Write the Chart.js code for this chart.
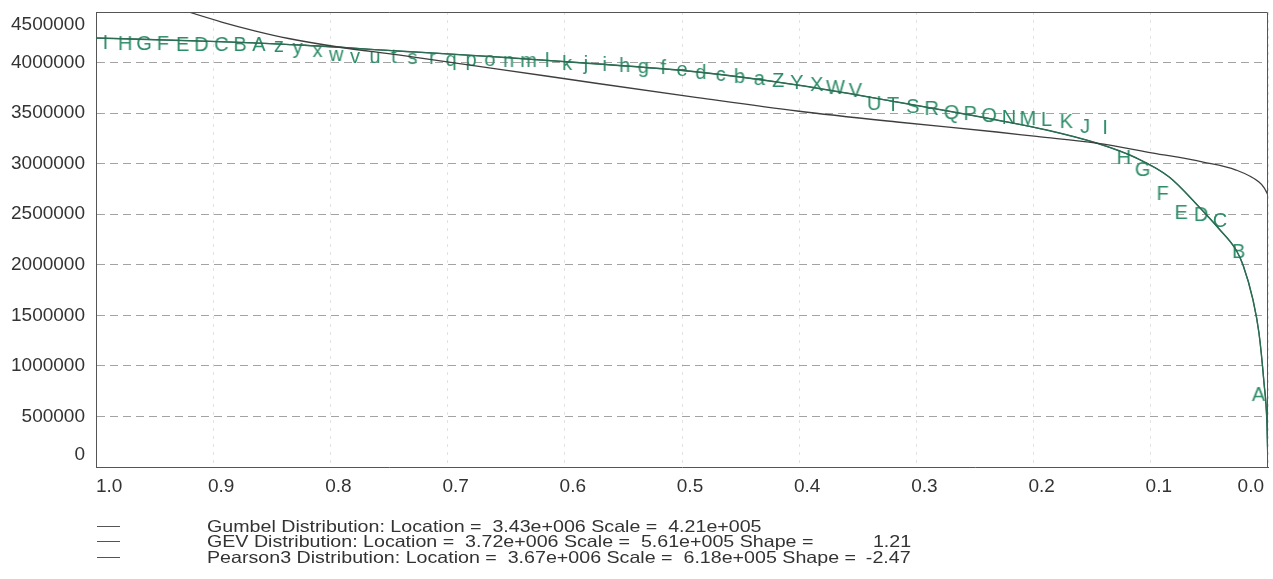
<!DOCTYPE html>
<html><head><meta charset="utf-8">
<script src="https://cdn.jsdelivr.net/npm/chart.js@4.4.1/dist/chart.umd.min.js"></script>
<style>
html,body{margin:0;padding:0;background:#fff;}
#wrap{position:relative;width:1273px;height:579px;overflow:hidden;background:#fff;}
canvas{position:absolute;left:0;top:0;}
.lg{position:absolute;font-family:'Liberation Sans',Arial,sans-serif;font-size:16.5px;color:#333;white-space:pre;line-height:16px;transform-origin:0 50%;}
.ln{position:absolute;left:97px;width:23px;height:1px;background:#555;}
</style></head>
<body><div id="wrap"><canvas id="c" width="1273" height="579"></canvas><div id="legend"></div></div>
<script>
// ---- data ----
const xTickValues = [1.0, 0.9, 0.8, 0.7, 0.6, 0.5, 0.4, 0.3, 0.2, 0.1, 0.0];
const xTickLabels = ['1.0','0.9','0.8','0.7','0.6','0.5','0.4','0.3','0.2','0.1','0.0'];
const yTickValues = [0, 500000, 1000000, 1500000, 2000000, 2500000, 3000000, 3500000, 4000000, 4500000];
const yTickLabels = ['0','500000','1000000','1500000','2000000','2500000','3000000','3500000','4000000','4500000'];

const gumbelX = [0.95, 0.9209, 0.8928, 0.8638, 0.8357, 0.7932, 0.7421, 0.6570, 0.5719, 0.4868, 0.4017, 0.3166, 0.2315, 0.1974, 0.1464, 0.0979, 0.0553, 0.0272, 0.0077, 0.0034, 0.0];
const gumbelY = [4610000, 4500000, 4401000, 4312000, 4238000, 4154000, 4075000, 3936000, 3793000, 3654000, 3521000, 3412000, 3313000, 3269000, 3204000, 3105000, 3016000, 2937000, 2819000, 2764000, 2690000];

const gevX = [1.0, 0.9123, 0.8272, 0.7421, 0.6570, 0.5719, 0.4868, 0.4017, 0.3166, 0.2315, 0.1889, 0.1464, 0.1123, 0.0843, 0.0587, 0.0417, 0.0272, 0.0213, 0.0128, 0.0077, 0.0034, 0.0009, 0.0];
const gevY = [4243000, 4213000, 4174000, 4114000, 4055000, 3986000, 3907000, 3778000, 3610000, 3432000, 3333000, 3204000, 3056000, 2868000, 2571000, 2354000, 2146000, 1998000, 1652000, 1325000, 831000, 435000, 0];
// Pearson3 curve lies on top of the GEV curve in the picture
const pearson3X = [1.0, 0.9123, 0.8272, 0.7421, 0.6570, 0.5719, 0.4868, 0.4017, 0.3166, 0.2315, 0.1889, 0.1464, 0.1123, 0.0843, 0.0587, 0.0417, 0.0272, 0.0213, 0.0128, 0.0077, 0.0034, 0.0009, 0.0];
const pearson3Y = [4243000, 4213000, 4174000, 4114000, 4055000, 3986000, 3907000, 3778000, 3610000, 3432000, 3333000, 3204000, 3056000, 2868000, 2571000, 2354000, 2146000, 1998000, 1652000, 1325000, 831000, 435000, 0];

const pointLetters = 'ABCDEFGHIJKLMNOPQRSTUVWXYZabcdefghijklmnopqrstuvwxyzABCDEFGHI'.split('');
const pointX = [0.008, 0.025, 0.041, 0.057, 0.074, 0.090, 0.107, 0.123, 0.139, 0.156, 0.172, 0.189, 0.205, 0.221, 0.238, 0.254, 0.270, 0.287, 0.303, 0.320, 0.336, 0.352, 0.369, 0.385, 0.402, 0.418, 0.434, 0.451, 0.467, 0.484, 0.500, 0.516, 0.533, 0.549, 0.566, 0.582, 0.598, 0.615, 0.631, 0.648, 0.664, 0.680, 0.697, 0.713, 0.730, 0.746, 0.762, 0.779, 0.795, 0.811, 0.828, 0.844, 0.861, 0.877, 0.893, 0.910, 0.926, 0.943, 0.959, 0.975, 0.992];
const pointY = [712000, 2126000, 2433000, 2492000, 2512000, 2700000, 2937000, 3056000, 3353000, 3363000, 3412000, 3432000, 3442000, 3452000, 3471000, 3491000, 3501000, 3541000, 3560000, 3580000, 3590000, 3719000, 3748000, 3778000, 3798000, 3818000, 3837000, 3857000, 3877000, 3897000, 3926000, 3946000, 3956000, 3966000, 3976000, 3986000, 3986000, 4015000, 4015000, 4015000, 4025000, 4025000, 4025000, 4045000, 4045000, 4055000, 4055000, 4055000, 4075000, 4114000, 4144000, 4164000, 4174000, 4174000, 4174000, 4174000, 4174000, 4183000, 4183000, 4183000, 4193000];

const legendNames = ['Gumbel', 'GEV', 'Pearson3'];
const legendLocation = ['3.43e+006', '3.72e+006', '3.67e+006'];
const legendScale = ['4.21e+005', '5.61e+005', '6.18e+005'];
const legendShape = ['', '1.21', '-2.47'];

// ---- helpers ----
const toXY = (xs, ys) => xs.map((x, i) => ({x, y: ys[i]}));
const FONT = "'Liberation Sans', Arial, sans-serif";
const GREEN_TEXT = '#2d8c68';
const GREEN_LINE = '#2b6c52';

function letterImage(ch) {
  const c = document.createElement('canvas');
  const g = c.getContext('2d');
  g.font = '20px ' + FONT;
  let w = Math.ceil(g.measureText(ch).width) + 4;
  if (w % 2) w++;
  c.width = w; c.height = 28;
  g.font = '20px ' + FONT;
  g.fillStyle = GREEN_TEXT;
  g.textAlign = 'center';
  g.textBaseline = 'middle';
  g.fillText(ch, w / 2, 14);
  return c;
}

const deco = {
  id: 'deco',
  afterDraw(chart) {
    const {ctx, chartArea: a, scales: {x, y}} = chart;
    ctx.save();
    ctx.strokeStyle = '#555';
    ctx.lineWidth = 1;
    ctx.beginPath();
    ctx.moveTo(a.left + 0.5, a.top + 0.5);
    ctx.lineTo(a.right - 0.5, a.top + 0.5);
    ctx.lineTo(a.right - 0.5, a.bottom + 0.5);
    ctx.stroke();
    ctx.font = '19px ' + FONT;
    ctx.fillStyle = '#333';
    ctx.textBaseline = 'middle';
    // x tick labels
    ctx.textAlign = 'center';
    xTickValues.forEach((v, i) => {
      const t = xTickLabels[i];
      const w = ctx.measureText(t).width;
      let cx = x.getPixelForValue(v) + 8;
      cx = Math.max(cx, a.left + w / 2);
      cx = Math.min(cx, a.right - 4 - w / 2);
      ctx.fillText(t, cx, a.bottom + 20);
    });
    // y tick labels
    ctx.textAlign = 'right';
    yTickValues.forEach((v, i) => {
      let cy = y.getPixelForValue(v);
      cy = Math.max(cy, a.top + 13);
      cy = Math.min(cy, a.bottom - 12);
      ctx.fillText(yTickLabels[i], a.left - 11, cy);
    });
    ctx.restore();
  }
};

const curve = (label, xs, ys, color, width) => ({
  label, data: toXY(xs, ys), showLine: true, borderColor: color, borderWidth: width,
  pointRadius: 0, fill: false, cubicInterpolationMode: 'monotone'
});

new Chart(document.getElementById('c'), {
  type: 'scatter',
  data: {
    datasets: [
      curve('Gumbel', gumbelX, gumbelY, '#3e3e3e', 1.3),
      curve('GEV', gevX, gevY, GREEN_LINE, 1.4),
      curve('Pearson3', pearson3X, pearson3Y, GREEN_LINE, 1.2),
      {
        label: 'Data', data: toXY(pointX, pointY), showLine: false,
        pointStyle: pointLetters.map(letterImage), pointRadius: 1
      }
    ]
  },
  options: {
    responsive: false, animation: false,
    layout: {padding: {left: 0, right: 1, top: 12, bottom: 0}},
    plugins: {legend: {display: false}, tooltip: {enabled: false}},
    scales: {
      x: {
        type: 'linear', reverse: true, min: 0, max: 1,
        ticks: {display: false, stepSize: 0.1},
        grid: {color: '#e2e2e2', lineWidth: 1, drawTicks: false},
        border: {display: true, color: '#555', width: 1, dash: [3, 5]},
        afterFit(s) { s.height = 112; }
      },
      y: {
        min: 0, max: 4500000,
        ticks: {display: false, stepSize: 500000},
        grid: {color: (c) => (c.tick && (c.tick.value === 0 || c.tick.value === 4500000)) ? 'rgba(0,0,0,0)' : '#a3a3a3', lineWidth: 1, drawTicks: false},
        border: {display: true, color: '#555', width: 1, dash: [8, 5]},
        afterFit(s) { s.width = 96; }
      }
    }
  },
  plugins: [deco]
});

// ---- legend (HTML text) ----
const lg = document.getElementById('legend');
const rowCenters = [526, 541, 557];
legendNames.forEach((n, i) => {
  const ln = document.createElement('div');
  ln.className = 'ln';
  ln.style.top = rowCenters[i] + 'px';
  lg.appendChild(ln);
  const t = document.createElement('div');
  t.className = 'lg';
  t.style.left = '207px';
  t.style.top = (rowCenters[i] - 8) + 'px';
  t.style.transform = 'scaleX(1.19)';
  t.textContent = n + ' Distribution: Location =  ' + legendLocation[i] + ' Scale =  ' + legendScale[i] + (legendShape[i] ? ' Shape =' : '');
  lg.appendChild(t);
  if (legendShape[i]) {
    const s = document.createElement('div');
    s.className = 'lg';
    s.style.right = (1273 - 911) + 'px';
    s.style.top = (rowCenters[i] - 8) + 'px';
    s.style.transformOrigin = '100% 50%';
    s.style.transform = 'scaleX(1.19)';
    s.textContent = legendShape[i];
    lg.appendChild(s);
  }
});
</script>
</body></html>
